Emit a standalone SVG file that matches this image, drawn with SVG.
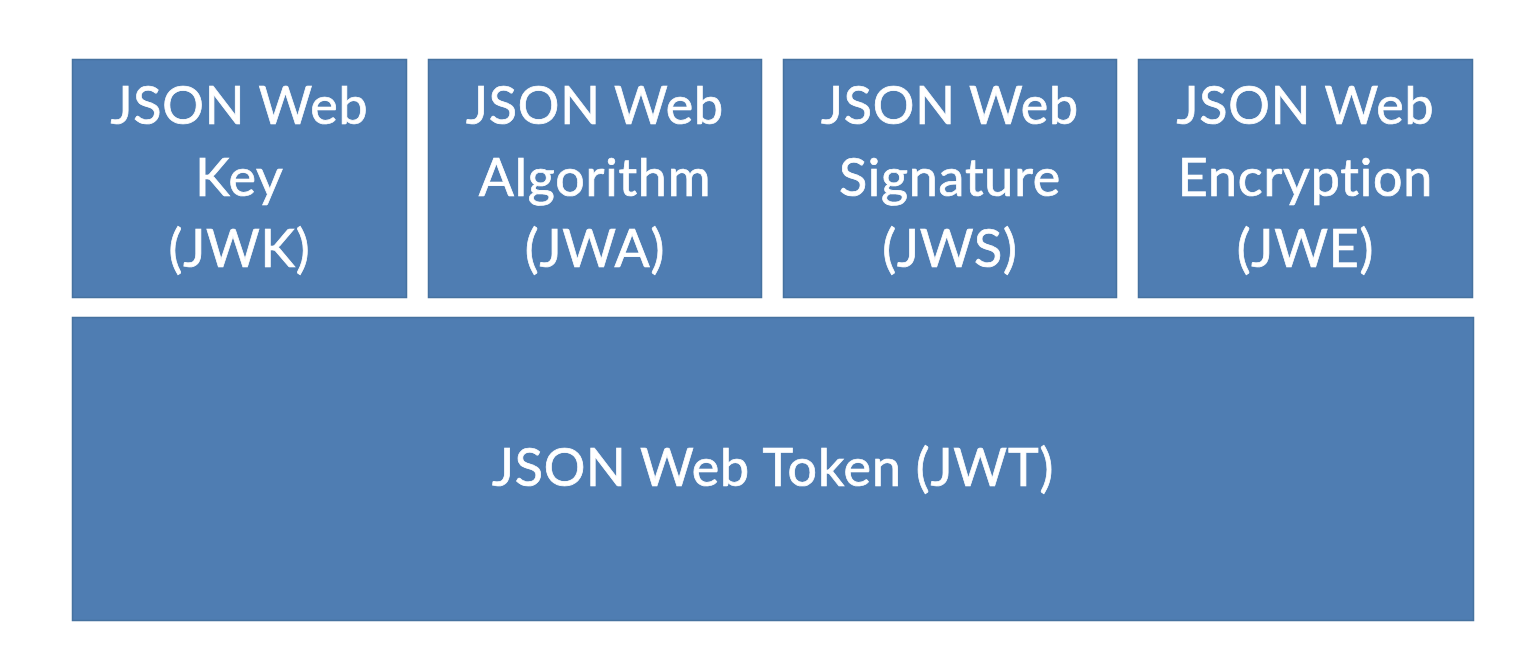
<svg xmlns="http://www.w3.org/2000/svg" width="1536" height="654" viewBox="0 0 1536 654">
<style>
.box{fill:#4f7db2;stroke:#46729f;stroke-width:1.5}
.t{font-family:Lato,"Noto Sans",sans-serif;font-size:52px;letter-spacing:0.8px;fill:#ffffff;stroke:#ffffff;stroke-width:0.7;text-anchor:middle;font-variant-ligatures:none}
</style>
<rect width="1536" height="654" fill="#ffffff"/>
<g id="jwk"><rect class="box" x="72.5" y="59.5" width="334" height="238"/>
<text class="t" x="239.5" y="124">JSON Web</text><text class="t" x="239.5" y="196">Key</text><text class="t" x="239.5" y="267">(JWK)</text></g>
<g id="jwa"><rect class="box" x="428.5" y="59.5" width="333" height="238"/>
<text class="t" x="595" y="124">JSON Web</text><text class="t" x="595" y="196">Algorithm</text><text class="t" x="595" y="267">(JWA)</text></g>
<g id="jws"><rect class="box" x="783.5" y="59.5" width="333" height="238"/>
<text class="t" x="950" y="124">JSON Web</text><text class="t" x="950" y="196">Signature</text><text class="t" x="950" y="267">(JWS)</text></g>
<g id="jwe"><rect class="box" x="1138.5" y="59.5" width="334" height="238"/>
<text class="t" x="1305.5" y="124">JSON Web</text><text class="t" x="1305.5" y="196">Encryption</text><text class="t" x="1305.5" y="267">(JWE)</text></g>
<g id="jwt"><rect class="box" x="72.5" y="317.5" width="1401" height="303"/>
<text class="t" x="773" y="486">JSON Web Token (JWT)</text></g>
<g id="connectors"></g>
</svg>
